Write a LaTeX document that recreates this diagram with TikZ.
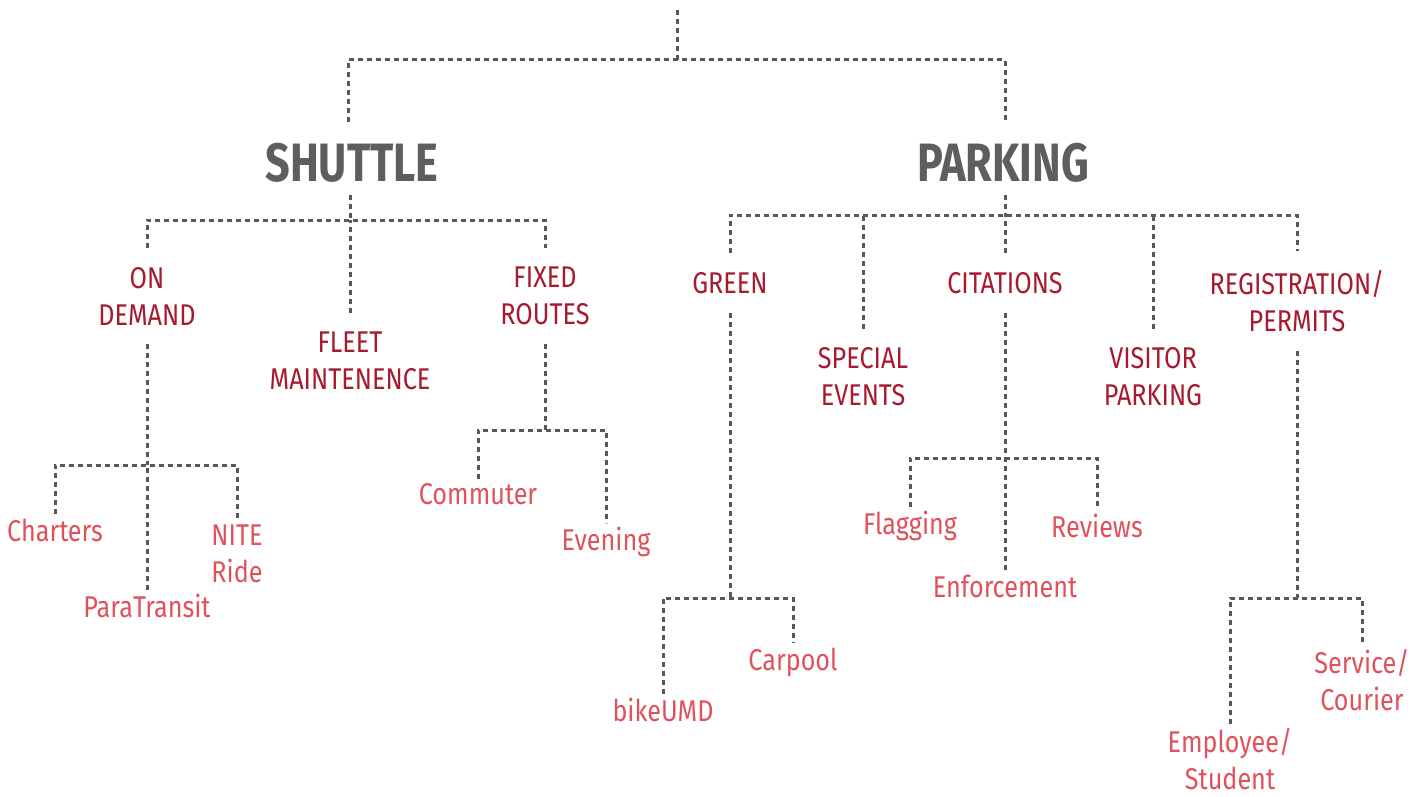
\documentclass[tikz,border=0pt]{standalone}
\usepackage{fontspec}
\setmainfont[FakeStretch=0.84]{Fira Sans}
\newfontfamily\headfont[FakeStretch=0.8]{Fira Sans}
\usetikzlibrary{positioning}
\definecolor{headgray}{HTML}{5E5E60}
\definecolor{darkred}{HTML}{A6192E}
\definecolor{lightred}{HTML}{E0525B}
\definecolor{linegray}{HTML}{585858}

\begin{document}
\begin{tikzpicture}[
  x=1pt, y=-1pt,
  top/.style={font=\headfont\bfseries\fontsize{54}{60}\selectfont, text=headgray, inner xsep=4pt, inner ysep=12pt},
  mid/.style={font=\fontsize{30}{37}\selectfont, text=darkred, align=center, inner xsep=4pt, inner ysep=19pt},
  leaf/.style={font=\fontsize{30}{37}\selectfont, text=lightred, align=center, inner xsep=4pt, inner ysep=4pt},
  dline/.style={draw=linegray, line width=3pt, dash pattern=on 5pt off 4pt}]

  \useasboundingbox (0,0) rectangle (1418,797);

  \node[top] (shuttle) at (352,163) {SHUTTLE};
  \node[top] (parking) at (1003,163) {PARKING};
  \coordinate (root) at (677,10);
  \coordinate (rootbar) at (677,60);
  \draw[dline] (root) -- (rootbar);
  \draw[dline, shorten <=9pt, shorten >=9pt] (shuttle.north -| 348,0) |- (rootbar) -| (parking.north -| 1005,0);

  \node[mid] (ondemand) at (147,296) {ON\\DEMAND};
  \node[mid] (fleet) at (350,361) {FLEET\\MAINTENENCE};
  \node[mid] (fixed) at (545,296) {FIXED\\ROUTES};
  \coordinate (sbar) at (350,220);
  \draw[dline] (shuttle.south -| sbar) -- (sbar);
  \draw[dline] (ondemand) |- (sbar) -| (fixed);
  \draw[dline] (fleet) -- (sbar);

  \node[leaf] (charters) at (55,530) {Charters};
  \node[leaf] (paratransit) at (147,606) {ParaTransit};
  \node[leaf] (nite) at (237,554) {NITE\\Ride};
  \coordinate (odbar) at (147,465);
  \draw[dline] (ondemand) -- (odbar);
  \draw[dline] (charters) |- (odbar) -| (nite);
  \draw[dline] (paratransit) -- (odbar);

  \node[leaf] (commuter) at (478,494) {Commuter};
  \node[leaf] (evening) at (606,542) {Evening};
  \coordinate (frbar) at (545,430);
  \draw[dline] (fixed) -- (frbar);
  \draw[dline] (commuter) |- (frbar) -| (evening);

  \node[mid] (green) at (730,283) {GREEN};
  \node[mid] (special) at (863,377) {SPECIAL\\EVENTS};
  \node[mid] (citations) at (1005,283) {CITATIONS};
  \node[mid] (visitor) at (1153,377) {VISITOR\\PARKING};
  \node[mid] (registration) at (1297,301) {REGISTRATION/\\PERMITS};
  \coordinate (pbar) at (1005,215);
  \draw[dline] (parking.south -| pbar) -- (pbar);
  \draw[dline] (green) |- (pbar) -| (registration);
  \draw[dline] (special) -- (special |- pbar);
  \draw[dline] (citations) -- (pbar);
  \draw[dline] (visitor) -- (visitor |- pbar);

  \node[leaf] (bikeumd) at (663,710) {bikeUMD};
  \node[leaf] (carpool) at (793,662) {Carpool};
  \coordinate (gbar) at (730,598);
  \draw[dline] (green) -- (gbar);
  \draw[dline] (bikeumd) |- (gbar) -| (carpool);

  \node[leaf] (flagging) at (910,526) {Flagging};
  \node[leaf] (enforcement) at (1005,586) {Enforcement};
  \node[leaf] (reviews) at (1097,526) {Reviews};
  \coordinate (cbar) at (1005,458);
  \draw[dline] (citations) -- (cbar);
  \draw[dline] (flagging) |- (cbar) -| (reviews);
  \draw[dline] (enforcement) -- (cbar);

  \node[leaf] (employee) at (1230,759) {Employee/\\Student};
  \node[leaf] (service) at (1362,680) {Service/\\Courier};
  \coordinate (rbar) at (1297,598);
  \draw[dline] (registration) -- (rbar);
  \draw[dline] (employee) |- (rbar) -| (service);
\end{tikzpicture}
\end{document}
